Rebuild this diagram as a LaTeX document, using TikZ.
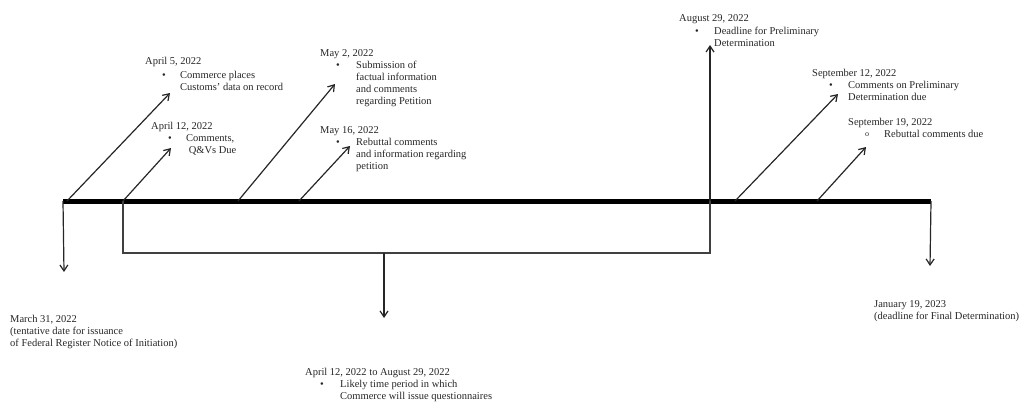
\documentclass[tikz,border=0pt]{standalone}
\usepackage{fontspec}
\setmainfont{Liberation Serif}
\usepackage{tikz}
\usetikzlibrary{arrows.meta,positioning}

% lines of a label, first baseline on the anchor
\newcommand{\txtlines}[1]{\begin{tabular}[t]{@{}l@{}}#1\end{tabular}}

\begin{document}
\begin{tikzpicture}[
    x=1pt, y=-1pt,
    date/.style={anchor=base west, inner sep=0pt, text=black!85,
        font=\fontsize{10.5}{12.3}\selectfont},
    bul/.style={anchor=base, inner sep=0pt, text=black!85,
        font=\fontsize{10.5}{12.3}\selectfont},
    note/.style={anchor=base west, inner sep=0pt, text=black!85,
        font=\fontsize{10.5}{12.3}\selectfont},
    arrow/.style={-{Straight Barb[length=6pt,width=8pt]}, line width=1.2pt, color=black!85},
    frame/.style={line width=1.2pt, color=black!75},
    axis/.style={line width=5pt, color=black}
]
    \useasboundingbox (0,0) rectangle (1024,405);

    % --- Time line ---
    \coordinate (start) at (63,201);
    \coordinate (stop) at (931,201);
    \draw[axis] (start) -- (stop);

    % --- Points on the line ---
    \coordinate (t0405) at (67,201);
    \coordinate (t0412) at (123,201);
    \coordinate (t0502) at (238,201);
    \coordinate (t0516) at (299,201);
    \coordinate (t0829) at (710,201);
    \coordinate (t0912) at (735,201);
    \coordinate (t0919) at (817,201);

    % --- Arrow tips ---
    \coordinate (h0405) at (170,93);
    \coordinate (h0412) at (171,148);
    \coordinate (h0502) at (335,84);
    \coordinate (h0516) at (350,146);
    \coordinate (h0829) at (710,45);
    \coordinate (h0912) at (838,94);
    \coordinate (h0919) at (866,147);
    \coordinate (h0331) at (64,272);
    \coordinate (h0119) at (930,266);

    \draw[arrow] (t0405) -- (h0405);
    \draw[arrow] (t0412) -- (h0412);
    \draw[arrow] (t0502) -- (h0502);
    \draw[arrow] (t0516) -- (h0516);
    \draw[arrow] (t0829) -- (h0829);
    \draw[arrow] (t0912) -- (h0912);
    \draw[arrow] (t0919) -- (h0919);
    \draw[arrow] (start) -- (h0331);
    \draw[arrow] (stop) -- (h0119);

    % --- Questionnaire window ---
    \coordinate (qbl) at (123,253);
    \coordinate (qbr) at (710,253);
    \coordinate (qmid) at (384,253);
    \coordinate (hq) at (384,318);
    \draw[frame] (t0412) -- (qbl) -- (qbr) -- (t0829);
    \draw[arrow] (qmid) -- (hq);

    % --- Labels above ---
    \node[date] (d0405) at (145,64) {April 5, 2022};
    \node[bul] (b0405) at (164,78) {•};
    \node[note] (n0405) at (180,78) {\txtlines{Commerce places\\Customs' data on record}};

    \node[date] (d0412) at (151,129) {April 12, 2022};
    \node[bul] (b0412) at (170,141) {•};
    \node[note] (n0412) at (186,141) {\txtlines{Comments,\\\ Q\&Vs Due}};

    \node[date] (d0502) at (320,56) {May 2, 2022};
    \node[bul] (b0502) at (338,68) {•};
    \node[note] (n0502) at (356,68) {\txtlines{Submission of\\factual information\\and comments\\regarding Petition}};

    \node[date] (d0516) at (320,133) {May 16, 2022};
    \node[bul] (b0516) at (338,145) {•};
    \node[note] (n0516) at (356,145) {\txtlines{Rebuttal comments\\and information regarding\\petition}};

    \node[date] (d0829) at (679,21) {August 29, 2022};
    \node[bul] (b0829) at (697,34) {•};
    \node[note] (n0829) at (714,34) {\txtlines{Deadline for Preliminary\\Determination}};

    \node[date] (d0912) at (812,76) {September 12, 2022};
    \node[bul] (b0912) at (831,88) {•};
    \node[note] (n0912) at (848,88) {\txtlines{Comments on Preliminary\\Determination due}};

    \node[date] (d0919) at (848,125) {September 19, 2022};
    \node[bul, font=\fontsize{8}{10}\selectfont] (b0919) at (867,136) {o};
    \node[note] (n0919) at (884,137) {Rebuttal comments due};

    % --- Labels below ---
    \node[note] (n0331) at (10,322) {\txtlines{March 31, 2022\\(tentative date for issuance\\of Federal Register Notice of Initiation)}};
    \node[note] (n0119) at (874,307) {\txtlines{January 19, 2023\\(deadline for Final Determination)}};

    \node[date] (dq) at (305,375) {April 12, 2022 to August 29, 2022};
    \node[bul] (bq) at (322,387) {•};
    \node[note] (nq) at (340,387) {\txtlines{Likely time period in which\\Commerce will issue questionnaires}};
\end{tikzpicture}
\end{document}
